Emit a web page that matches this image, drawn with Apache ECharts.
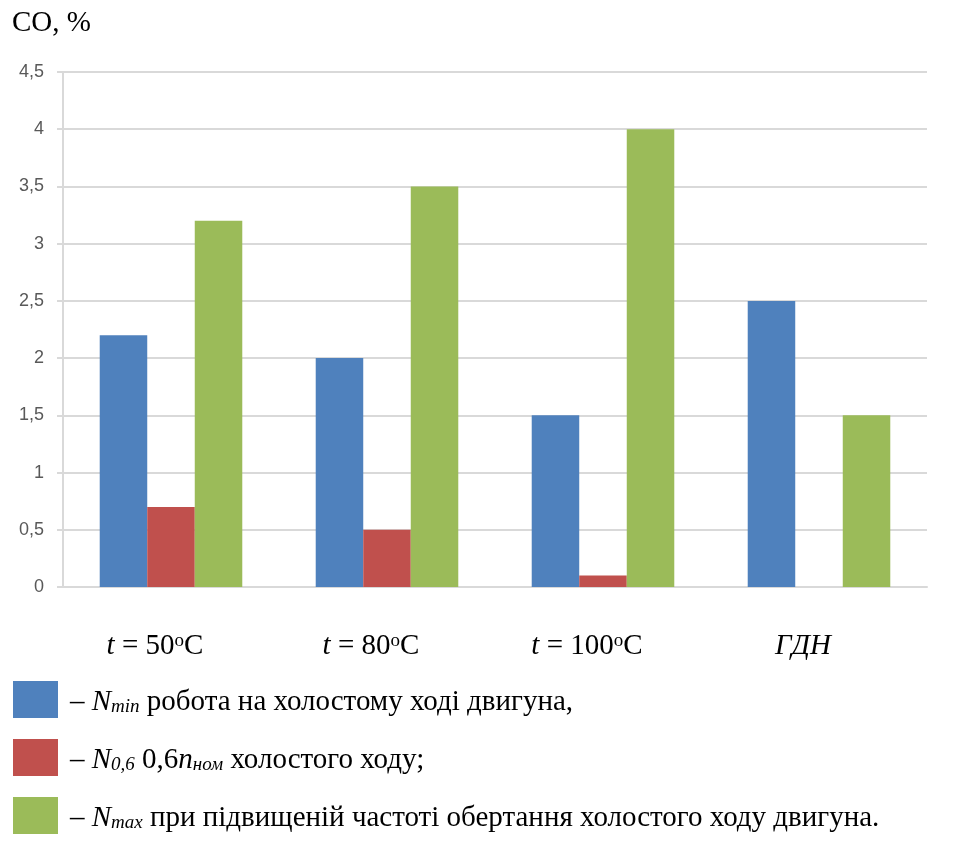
<!DOCTYPE html>
<html><head><meta charset="utf-8">
<script src="https://cdn.jsdelivr.net/npm/echarts@6/dist/echarts.min.js"></script>
<style>html,body{margin:0;padding:0;background:#fff}#c{width:959px;height:841px}</style>
</head><body><div id="c"></div>
<script>
const categories = ['t50', 't80', 't100', 'gdn'];
const categoryLabels = ['{i|t} = 50{sup|o}C', '{i|t} = 80{sup|o}C', '{i|t} = 100{sup|o}C', '{i|ГДН}'];
const seriesNames = ['Nmin', 'N06', 'Nmax'];
const nMin = [2.2, 2.0, 1.5, 2.5];
const n06 = [0.7, 0.5, 0.1, 0];
const nMax = [3.2, 3.5, 4.0, 1.5];
const legendTexts = {
  Nmin: '– {n|N}{sub|min} робота на холостому ході двигуна,',
  N06: '– {n|N}{sub|0,6} 0,6{n|n}{sub|ном} холостого ходу;',
  Nmax: '– {n|N}{sub|max} при підвищеній частоті обертання холостого ходу двигуна.'
};
const colors = ['#4f81bd', '#c0504d', '#9bbb59'];

const serif = '"Liberation Serif", "DejaVu Serif", serif';
const FS = 29;
const chart = echarts.init(document.getElementById('c'));
const values = [nMin, n06, nMax];
chart.setOption({
  animation: false,
  color: colors,
  grid: {left: 63, right: 32, top: 72, bottom: 254, containLabel: false},
  title: {text: 'CO, %', left: 12, top: 9, padding: 0, textStyle: {fontFamily: serif, fontSize: FS, fontWeight: 'normal', color: '#000'}},
  legend: {
    orient: 'vertical', left: 13, top: 681, height: 200, padding: 0,
    itemWidth: 45, itemHeight: 37, itemGap: 21,
    icon: 'rect', data: seriesNames,
    formatter: n => legendTexts[n],
    textStyle: {
      fontFamily: serif, fontSize: FS, color: '#000', padding: [5, 0, 0, 7],
      rich: {
        n: {fontFamily: serif, fontSize: FS, fontStyle: 'italic', color: '#000'},
        sub: {fontFamily: serif, fontSize: 19, fontStyle: 'italic', color: '#000', verticalAlign: 'bottom', padding: [10, 0, 0, 0]}
      }
    }
  },
  xAxis: {
    type: 'category', data: categories,
    axisLine: {show: true, lineStyle: {color: '#d9d9d9', width: 2}},
    axisTick: {show: false},
    axisLabel: {
      interval: 0, margin: 45, fontFamily: serif, fontSize: FS, color: '#000', padding: [0, 32, 0, 0],
      formatter: (v, i) => categoryLabels[i],
      rich: {
        i: {fontFamily: serif, fontSize: FS, fontStyle: 'italic', color: '#000'},
        sup: {fontFamily: serif, fontSize: 19, color: '#000', verticalAlign: 'top', padding: [0, 0, 10, 0]}
      }
    }
  },
  yAxis: {
    type: 'value', min: 0, max: 4.5, interval: 0.5,
    axisLine: {show: true, lineStyle: {color: '#d9d9d9', width: 2}},
    axisTick: {show: true, length: 6, lineStyle: {color: '#d9d9d9', width: 2}},
    splitLine: {lineStyle: {color: '#d9d9d9', width: 2}},
    axisLabel: {margin: 19, fontFamily: '"Liberation Sans", sans-serif', fontSize: 18, color: '#595959',
      formatter: v => String(v).replace('.', ',')}
  },
  series: seriesNames.map((name, k) => ({
    name, type: 'bar', data: values[k], barGap: '0%', barCategoryGap: '34%',
    itemStyle: {color: colors[k]}
  }))
});
</script></body></html>
